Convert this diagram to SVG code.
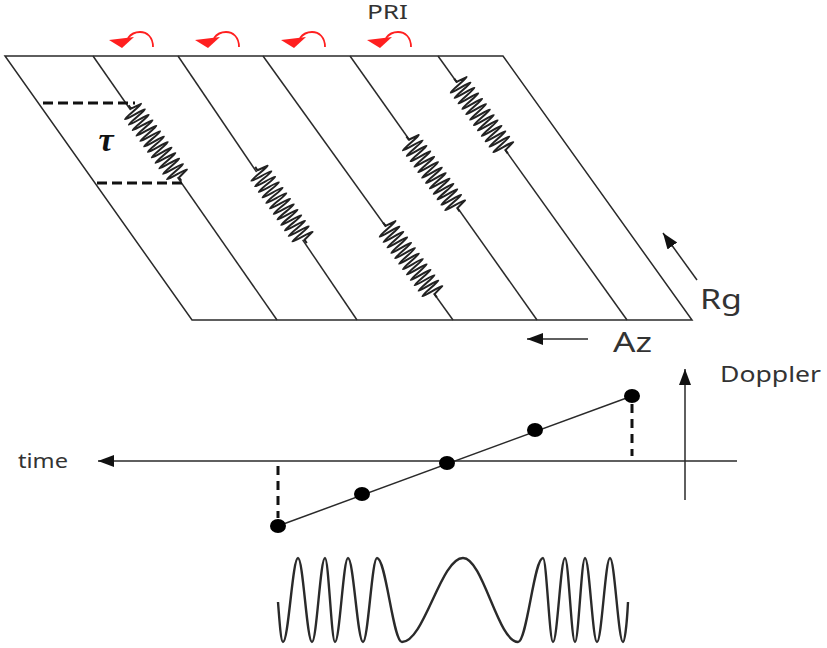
<svg xmlns="http://www.w3.org/2000/svg" xmlns:xlink="http://www.w3.org/1999/xlink" width="827" height="648" viewBox="0 0 827 648">
<style>
.ln{stroke:#2a2a2a;stroke-width:1.5;fill:none}
.dash{stroke:#111;stroke-width:2.8;stroke-dasharray:10,5;fill:none}
.vdash{stroke:#111;stroke-width:3;stroke-dasharray:9,6;fill:none}
.lbl{font-family:"Noto Sans","Open Sans",sans-serif;fill:#333}
.coil{stroke:#222;stroke-width:2;fill:none;stroke-linejoin:round}
.red{stroke:#ff1f1f;stroke-width:1.8;fill:none}
</style>
<defs>
<marker id="ah" markerUnits="userSpaceOnUse" markerWidth="17" markerHeight="13" refX="16" refY="6" orient="auto">
<path d="M0,0 L16,6 L0,12 z" fill="#111"/>
</marker>
<g id="spring">
<rect x="-41" y="-13" width="82" height="26" fill="#fff"/>
<path class="coil" d="M-46,0 L-42,0 L-40,-11 c1.3,0 2.03,22 3.33,22 c1.3,0 2.03,-22 3.33,-22 c1.3,0 2.03,22 3.33,22 c1.3,0 2.03,-22 3.33,-22 c1.3,0 2.03,22 3.33,22 c1.3,0 2.03,-22 3.33,-22 c1.3,0 2.03,22 3.33,22 c1.3,0 2.03,-22 3.33,-22 c1.3,0 2.03,22 3.33,22 c1.3,0 2.03,-22 3.33,-22 c1.3,0 2.03,22 3.33,22 c1.3,0 2.03,-22 3.33,-22 c1.3,0 2.03,22 3.33,22 c1.3,0 2.03,-22 3.33,-22 c1.3,0 2.03,22 3.33,22 c1.3,0 2.03,-22 3.33,-22 c1.3,0 2.03,22 3.33,22 c1.3,0 2.03,-22 3.33,-22 c1.3,0 2.03,22 3.33,22 c1.3,0 2.03,-22 3.33,-22 c1.3,0 2.03,22 3.33,22 c1.3,0 2.03,-22 3.33,-22 c1.3,0 2.03,22 3.33,22 c1.3,0 2.03,-22 3.33,-22 L42,0 L46,0"/>
</g>
<g id="pri-arrow">
<path class="red" d="M153,47 C153,37 147,32 140,32 C135,32 131,34 128,38"/>
<polygon points="109,40 134,37 122,48" fill="#ff1f1f"/>
</g>
</defs>

<g id="frame">
<polygon class="ln" points="5,56 503,56 692,320 192,320"/>
</g>
<g id="range-lines">
<line class="ln" x1="93" y1="56" x2="277" y2="320"/>
<line class="ln" x1="178" y1="56" x2="357" y2="320"/>
<line class="ln" x1="263" y1="56" x2="453" y2="320"/>
<line class="ln" x1="350" y1="56" x2="537" y2="320"/>
<line class="ln" x1="438" y1="56" x2="627" y2="320"/>
</g>
<g id="springs">
<use xlink:href="#spring" transform="translate(155,143) rotate(55.1)"/>
<use xlink:href="#spring" transform="translate(281,205) rotate(55.9)"/>
<use xlink:href="#spring" transform="translate(410,260) rotate(54.3)"/>
<use xlink:href="#spring" transform="translate(433,174) rotate(54.7)"/>
<use xlink:href="#spring" transform="translate(481,116) rotate(54.4)"/>
</g>
<g id="tau">
<line class="dash" x1="43" y1="103" x2="135" y2="103"/>
<line class="dash" x1="97" y1="183" x2="183" y2="183"/>
<text x="106" y="151" text-anchor="middle" font-family="'Liberation Serif',serif" font-style="italic" font-weight="bold" font-size="34" fill="#111">τ</text>
</g>
<g id="pri">
<use xlink:href="#pri-arrow"/>
<use xlink:href="#pri-arrow" transform="translate(86,0)"/>
<use xlink:href="#pri-arrow" transform="translate(172,0)"/>
<use xlink:href="#pri-arrow" transform="translate(258,0)"/>
<text class="lbl" x="367" y="19" font-size="19" textLength="41" lengthAdjust="spacingAndGlyphs">PRI</text>
</g>
<g id="connectors">
<line class="ln" x1="697" y1="280" x2="663" y2="233" marker-end="url(#ah)"/>
<line class="ln" x1="588" y1="339" x2="527" y2="339" marker-end="url(#ah)"/>
<line class="ln" x1="737" y1="461" x2="98" y2="461" marker-end="url(#ah)"/>
<line class="ln" x1="685" y1="500" x2="685" y2="369" marker-end="url(#ah)"/>
</g>
<g id="rg">
<text class="lbl" x="700" y="309" font-size="27" textLength="42" lengthAdjust="spacingAndGlyphs">Rg</text>
</g>
<g id="az">
<text class="lbl" x="613" y="352" font-size="27" textLength="39" lengthAdjust="spacingAndGlyphs">Az</text>
</g>
<g id="time">
<text class="lbl" x="18" y="468" font-size="19" textLength="50" lengthAdjust="spacingAndGlyphs">time</text>
</g>
<g id="doppler">
<text class="lbl" x="720" y="382" font-size="21" textLength="101" lengthAdjust="spacingAndGlyphs">Doppler</text>
</g>
<g id="doppler-line">
<line class="ln" x1="278" y1="526" x2="632" y2="396"/>
<line class="vdash" x1="632" y1="404" x2="632" y2="456"/>
<line class="vdash" x1="278" y1="466" x2="278" y2="518"/>
<ellipse cx="278" cy="526" rx="8" ry="7" fill="#000"/>
<ellipse cx="362" cy="494" rx="8" ry="7" fill="#000"/>
<ellipse cx="447" cy="463" rx="8" ry="7" fill="#000"/>
<ellipse cx="535" cy="430" rx="8" ry="7" fill="#000"/>
<ellipse cx="632" cy="396" rx="8" ry="7" fill="#000"/>
</g>
<g id="waveform">
<path stroke="#2a2a2a" stroke-width="2.4" fill="none" d="M278,602 C279.5,622 281,642 283,642 C288.5,642 292.5,558 298,558 C303.1,558 306.9,642 312,642 C316.7,642 320.3,558 325,558 C328.6,558 331.4,642 335,642 C339.7,642 343.3,558 348,558 C353.5,558 357.5,642 363,642 C368.1,642 371.9,558 377,558 C386,558 393,642 402,642 C424.2,642 440.8,558 463,558 C483,558 498,642 518,642 C527,642 534,558 543,558 C546.6,558 549.4,642 553,642 C557.4,642 560.6,558 565,558 C568.6,558 571.4,642 575,642 C578.6,642 581.4,558 585,558 C589.4,558 592.6,642 597,642 C601.7,642 605.3,558 610,558 C614.7,558 618.3,642 623,642 C625,642 627,622 628,602"/>
</g>
</svg>
